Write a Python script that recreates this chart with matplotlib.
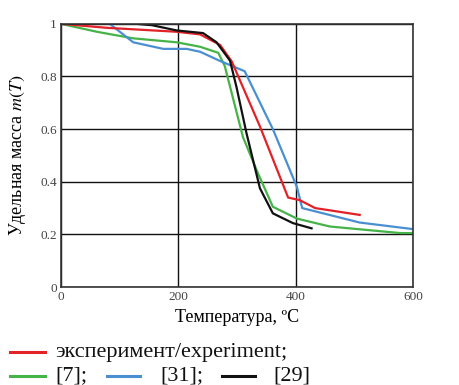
import matplotlib
matplotlib.use("Agg")
import matplotlib.pyplot as plt
from matplotlib.lines import Line2D
from matplotlib.ticker import FormatStrFormatter

plt.rcParams['font.family'] = ['Liberation Serif', 'DejaVu Serif']
plt.rcParams['mathtext.fontset'] = 'stix'

# experiment
t_exp = [0, 78, 197, 237, 271, 291, 339, 387, 407, 433, 509]
m_exp = [1.0, 0.985, 0.97, 0.96, 0.92, 0.857, 0.61, 0.34, 0.33, 0.30, 0.274]
# [7]
t_7 = [0, 61, 123, 197, 237, 268, 279, 310, 336, 361, 402, 458, 578, 600]
m_7 = [1.0, 0.97, 0.945, 0.93, 0.913, 0.89, 0.84, 0.57, 0.43, 0.305, 0.26, 0.23, 0.205, 0.205]
# [31]
t_31 = [0, 83, 123, 174, 214, 237, 270, 313, 361, 402, 411, 509, 600]
m_31 = [1.0, 1.0, 0.93, 0.905, 0.905, 0.894, 0.86, 0.82, 0.60, 0.38, 0.30, 0.245, 0.22]
# [29]
t_29 = [0, 129, 155, 197, 242, 265, 288, 299, 316, 339, 361, 395, 427]
m_29 = [1.0, 1.0, 0.995, 0.975, 0.965, 0.93, 0.86, 0.76, 0.585, 0.375, 0.28, 0.243, 0.223]

x_ticks = [0, 200, 400, 600]
y_ticks = [0, 0.2, 0.4, 0.6, 0.8, 1]

RED, GREEN, BLUE, BLACK = '#e32128', '#45b348', '#4a8fd2', '#111111'

fig = plt.figure(figsize=(4.59, 3.85), dpi=100)
ax = fig.add_axes([0.133, 0.2545, 0.767, 0.6835])

ax.plot(t_7, m_7, color=GREEN, lw=1.6)
ax.plot(t_31, m_31, color=BLUE, lw=1.6)
ax.plot(t_exp, m_exp, color=RED, lw=1.6)
ax.plot(t_29, m_29, color=BLACK, lw=1.6)

ax.set_xlim(0, 600)
ax.set_ylim(0, 1)
ax.set_xticks(x_ticks)
ax.set_yticks(y_ticks)
ax.yaxis.set_major_formatter(FormatStrFormatter('%g'))
ax.grid(True, color='#111111', lw=1.0)
ax.set_axisbelow(True)
for s in ax.spines.values():
    s.set_color('#333333')
    s.set_linewidth(1.2)
ax.tick_params(length=0, pad=3, labelsize=9.5, labelcolor='#444444')

ax.set_xlabel('Температура, ºС', fontsize=13, labelpad=4)
ax.set_ylabel('Удельная масса $\\mathit{m(T)}$', fontsize=13, labelpad=9)

# legend drawn below the axes (pixel layout)
W, H = 459, 385
legend_items = [
    (RED, 'эксперимент/experiment;', 10, 45, 55, 352),
    (GREEN, '[7];', 10, 45, 55, 376),
    (BLUE, '[31];', 107, 140, 160, 376),
    (BLACK, '[29]', 222, 255, 273, 376),
]
for color, label, x0, x1, xt, y in legend_items:
    fig.add_artist(Line2D([x0 / W, x1 / W], [1 - y / H, 1 - y / H],
                          color=color, lw=2.2, transform=fig.transFigure))
    fig.text(xt / W, 1 - y / H, label, fontsize=16, va='center', ha='left',
             color='#111111')

fig.savefig('out.png', dpi=100)
